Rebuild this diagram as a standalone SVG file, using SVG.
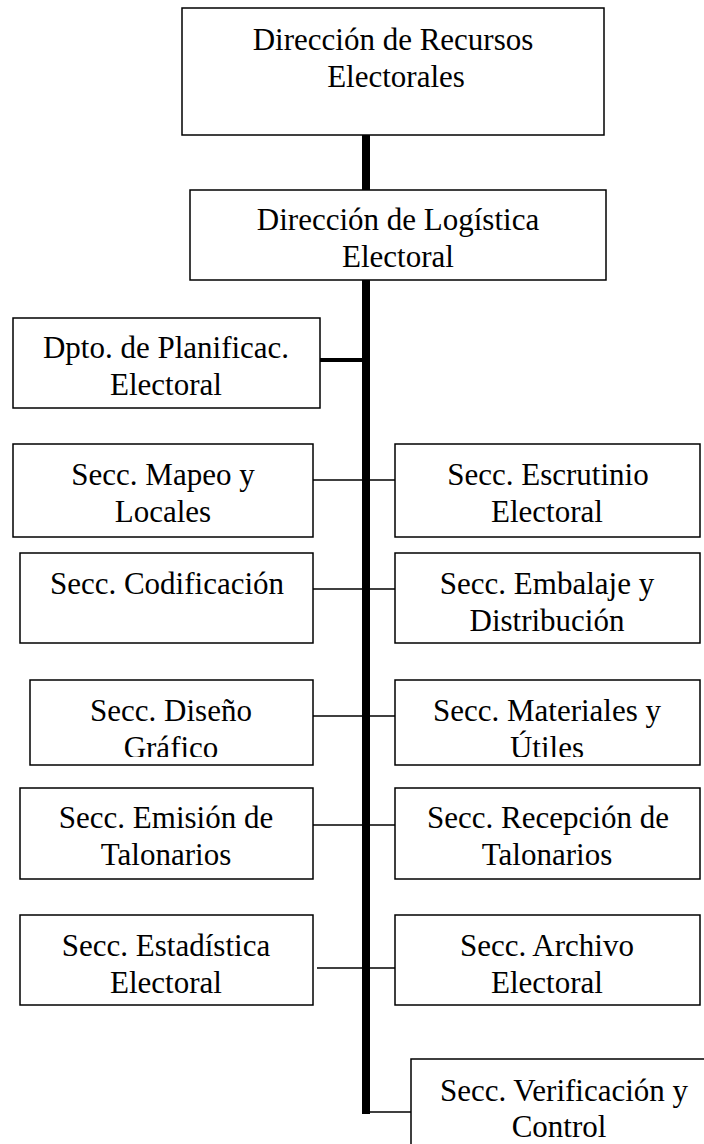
<svg xmlns="http://www.w3.org/2000/svg" width="704" height="1144" viewBox="0 0 704 1144">
<style>
.box{fill:#fff;stroke:#000;stroke-width:1.5}
.t{font-family:"Liberation Serif","Times New Roman",serif;font-size:31px;fill:#000;text-anchor:middle}
.thick{stroke:#000;stroke-width:8;fill:none}
.mid{stroke:#000;stroke-width:4;fill:none}
.thin{stroke:#000;stroke-width:1.5;fill:none}
</style>
<defs>
<clipPath id="clipDis"><rect x="30" y="680" width="284" height="77"/></clipPath>
<clipPath id="clipMat"><rect x="395" y="680" width="306" height="77"/></clipPath>
</defs>
<rect width="704" height="1144" fill="#fff"/>
<g id="connectors">
<line class="thick" x1="366" y1="135" x2="366" y2="190"/>
<line class="thick" x1="366" y1="280" x2="366" y2="1114"/>
<line class="mid" x1="320" y1="360" x2="366" y2="360"/>
<line class="thin" x1="313" y1="480" x2="395" y2="480"/>
<line class="thin" x1="313" y1="589" x2="395" y2="589"/>
<line class="thin" x1="313" y1="716" x2="395" y2="716"/>
<line class="thin" x1="313" y1="825" x2="395" y2="825"/>
<line class="thin" x1="317" y1="968" x2="398" y2="968"/>
<line class="thin" x1="366" y1="1112" x2="411" y2="1112"/>
</g>
<g id="n-recursos"><rect class="box" x="182" y="8" width="422" height="127"/><text class="t" x="393" y="50">Dirección de Recursos</text><text class="t" x="396" y="87">Electorales</text></g>
<g id="n-logistica"><rect class="box" x="190" y="190" width="416" height="90"/><text class="t" x="398" y="230">Dirección de Logística</text><text class="t" x="398" y="267">Electoral</text></g>
<g id="n-planificac"><rect class="box" x="13" y="318" width="307" height="90"/><text class="t" x="166" y="358">Dpto. de Planificac.</text><text class="t" x="166" y="395">Electoral</text></g>
<g id="n-mapeo"><rect class="box" x="13" y="444" width="300" height="93"/><text class="t" x="163" y="485">Secc. Mapeo y</text><text class="t" x="163" y="522">Locales</text></g>
<g id="n-escrutinio"><rect class="box" x="395" y="444" width="305" height="93"/><text class="t" x="548" y="485">Secc. Escrutinio</text><text class="t" x="547" y="522">Electoral</text></g>
<g id="n-codificacion"><rect class="box" x="20" y="553" width="293" height="90"/><text class="t" x="167" y="594">Secc. Codificación</text></g>
<g id="n-embalaje"><rect class="box" x="395" y="553" width="305" height="90"/><text class="t" x="547" y="594">Secc. Embalaje y</text><text class="t" x="547" y="631">Distribución</text></g>
<g id="n-diseno"><rect class="box" x="30" y="680" width="283" height="85"/><g clip-path="url(#clipDis)"><text class="t" x="171" y="721">Secc. Diseño</text><text class="t" x="171" y="758">Gráfico</text></g></g>
<g id="n-materiales"><rect class="box" x="395" y="680" width="305" height="85"/><g clip-path="url(#clipMat)"><text class="t" x="547" y="721">Secc. Materiales y</text><text class="t" x="547" y="758">Útiles</text></g></g>
<g id="n-emision"><rect class="box" x="20" y="788" width="293" height="91"/><text class="t" x="166" y="828">Secc. Emisión de</text><text class="t" x="166" y="865">Talonarios</text></g>
<g id="n-recepcion"><rect class="box" x="395" y="788" width="305" height="91"/><text class="t" x="548" y="828">Secc. Recepción de</text><text class="t" x="547" y="865">Talonarios</text></g>
<g id="n-estadistica"><rect class="box" x="20" y="915" width="293" height="90"/><text class="t" x="166" y="956">Secc. Estadística</text><text class="t" x="166" y="993">Electoral</text></g>
<g id="n-archivo"><rect class="box" x="395" y="915" width="305" height="90"/><text class="t" x="547" y="956">Secc. Archivo</text><text class="t" x="547" y="993">Electoral</text></g>
<g id="n-verificacion"><rect class="box" x="411" y="1059" width="300" height="100"/><text class="t" x="564" y="1101">Secc. Verificación y</text><text class="t" x="559" y="1137">Control</text></g>
</svg>
